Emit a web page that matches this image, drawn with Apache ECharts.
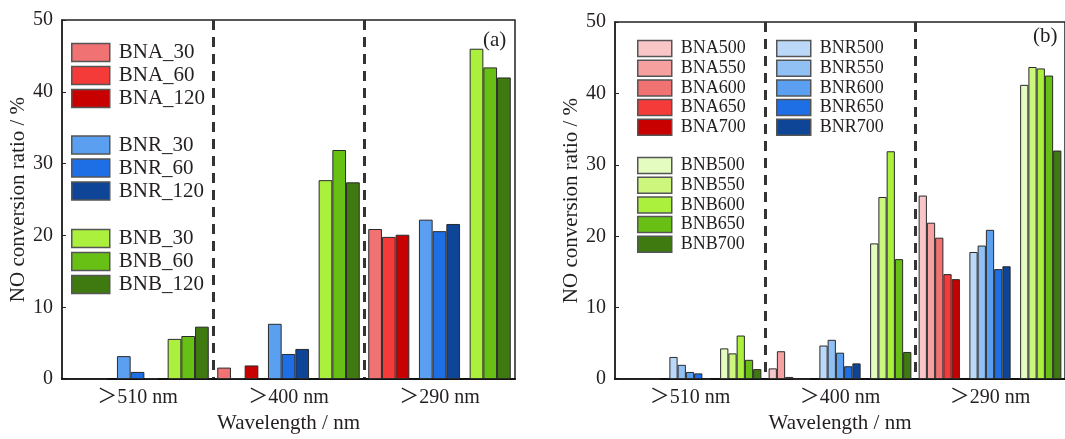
<!DOCTYPE html>
<html><head><meta charset="utf-8">
<script src="https://cdn.jsdelivr.net/npm/echarts@6/dist/echarts.min.js"></script>
<style>html,body{margin:0;padding:0;background:#fff}#c{width:1065px;height:439px}</style>
</head><body><div id="c"></div>
<script>
// ---------- data ----------
const categories = ['\uFF1E510 nm', '\uFF1E400 nm', '\uFF1E290 nm'];
const yTicks = [0, 10, 20, 30, 40, 50];

// panel (a)
const a_BNA_30  = [0, 1.6, 20.9];
const a_BNA_60  = [0, 0.1, 19.8];
const a_BNA_120 = [0, 1.9, 20.1];
const a_BNR_30  = [3.2, 7.7, 22.2];
const a_BNR_60  = [1.0, 3.5, 20.6];
const a_BNR_120 = [0.1, 4.2, 21.6];
const a_BNB_30  = [5.6, 27.7, 46.0];
const a_BNB_60  = [6.0, 31.9, 43.4];
const a_BNB_120 = [7.3, 27.4, 42.0];

// panel (b)
const b_BNA500 = [0, 1.5, 25.7];
const b_BNA550 = [0, 3.9, 21.9];
const b_BNA600 = [0, 0.3, 19.8];
const b_BNA650 = [0, 0, 14.7];
const b_BNA700 = [0, 0, 14.0];
const b_BNR500 = [3.1, 4.7, 17.8];
const b_BNR550 = [2.0, 5.5, 18.7];
const b_BNR600 = [1.0, 3.7, 20.9];
const b_BNR650 = [0.8, 1.8, 15.4];
const b_BNR700 = [0, 2.2, 15.8];
const b_BNB500 = [4.3, 19.0, 41.2];
const b_BNB550 = [3.6, 25.5, 43.7];
const b_BNB600 = [6.1, 31.9, 43.5];
const b_BNB650 = [2.7, 16.8, 42.5];
const b_BNB700 = [1.4, 3.8, 32.0];

// ---------- style ----------
const SERIF = '"Liberation Serif", "Times New Roman", "Noto Sans CJK SC", serif';
const TXT = '#231f20';
const C = {
  a1:'#f9c6c8', a2:'#f7a0a0', a3:'#f07272', a4:'#f53a3a', a5:'#c80000',
  r1:'#bcd8f8', r2:'#90c0f4', r3:'#5b9ff0', r4:'#1e6ee6', r5:'#0f4596',
  g1:'#e4fcc0', g2:'#ccf67c', g3:'#aaf03c', g4:'#68c014', g5:'#3f7a10'
};

const groupsA = [
  [['BNA_30', a_BNA_30, C.a3], ['BNA_60', a_BNA_60, C.a4], ['BNA_120', a_BNA_120, C.a5]],
  [['BNR_30', a_BNR_30, C.r3], ['BNR_60', a_BNR_60, C.r4], ['BNR_120', a_BNR_120, C.r5]],
  [['BNB_30', a_BNB_30, C.g3], ['BNB_60', a_BNB_60, C.g4], ['BNB_120', a_BNB_120, C.g5]]
];
const groupsB = [
  [['BNA500', b_BNA500, C.a1], ['BNA550', b_BNA550, C.a2], ['BNA600', b_BNA600, C.a3], ['BNA650', b_BNA650, C.a4], ['BNA700', b_BNA700, C.a5]],
  [['BNR500', b_BNR500, C.r1], ['BNR550', b_BNR550, C.r2], ['BNR600', b_BNR600, C.r3], ['BNR650', b_BNR650, C.r4], ['BNR700', b_BNR700, C.r5]],
  [['BNB500', b_BNB500, C.g1], ['BNB550', b_BNB550, C.g2], ['BNB600', b_BNB600, C.g3], ['BNB650', b_BNB650, C.g4], ['BNB700', b_BNB700, C.g5]]
];

function buildSeries(groups, axisIdx, barW, gapW) {
  const out = [];
  groups.forEach((g, gi) => {
    if (gi > 0) {
      out.push({ type:'bar', name:'_gap' + axisIdx + gi, xAxisIndex:axisIdx, yAxisIndex:axisIdx,
        data:[], barWidth:gapW, barGap:'0%', silent:true, itemStyle:{opacity:0} });
    }
    g.forEach(([name, vals, color]) => {
      out.push({ type:'bar', name, xAxisIndex:axisIdx, yAxisIndex:axisIdx, data:vals,
        barWidth:barW, barGap:'0%',
        itemStyle:{ color, borderColor:'#2a2a2a', borderWidth:1 } });
    });
  });
  return out;
}

function xAx(gi) {
  return {
    type:'category', gridIndex:gi, data:categories,
    axisLine:{ lineStyle:{ color:'#111', width:2 } },
    axisTick:{ show:false },
    axisLabel:{ fontFamily:SERIF, fontSize:20, color:TXT, margin:9 },
    splitLine:{ show:true, interval:0, showMinLine:false, showMaxLine:false,
      lineStyle:{ color:'#333', width:3, type:[10,7] } },
    name:'Wavelength / nm', nameLocation:'middle', nameGap:31,
    nameTextStyle:{ fontFamily:SERIF, fontSize:21, color:TXT }
  };
}
function yAx(gi, gap) {
  return {
    type:'value', gridIndex:gi, min:yTicks[0], max:yTicks[yTicks.length-1], interval:10,
    axisLine:{ show:true, lineStyle:{ color:'#222', width:1.5 } },
    axisTick:{ show:true, inside:true, length:4, lineStyle:{ color:'#222' } },
    axisLabel:{ fontFamily:SERIF, fontSize:20, color:TXT, margin:9 },
    splitLine:{ show:false },
    name:'NO conversion ratio / %', nameLocation:'middle', nameGap:gap,
    nameTextStyle:{ fontFamily:SERIF, fontSize:21, color:TXT }
  };
}
function leg(names, left, top, w, h, gap, fs) {
  return {
    data:names, orient:'vertical', left, top, padding:0, itemWidth:w, itemHeight:h, itemGap:gap,
    icon:'rect', selectedMode:false,
    itemStyle:{ borderColor:'#555', borderWidth:1.5 },
    textStyle:{ fontFamily:SERIF, fontSize:fs, color:TXT, padding:[0,0,0,4] }
  };
}

const option = {
  animation:false,
  backgroundColor:'#fff',
  grid:[
    { left:62, top:20, width:453, height:363, show:true, borderColor:'#222', borderWidth:1.5 },
    { left:615, top:22, width:452, height:362, show:true, borderColor:'#222', borderWidth:1.5 }
  ],
  xAxis:[ xAx(0), xAx(1) ],
  yAxis:[ yAx(0, 32), yAx(1, 33) ],
  legend:[
    leg(groupsA[0].map(d=>d[0]), 71, 42, 38, 18, 2, 21),
    leg(groupsA[1].map(d=>d[0]), 71, 134.5, 38, 18, 2, 21),
    leg(groupsA[2].map(d=>d[0]), 71, 228, 38, 18, 2, 21),
    leg(groupsB[0].map(d=>d[0]), 637, 39.5, 34, 16, 1.7, 18),
    leg(groupsB[1].map(d=>d[0]), 776, 39.5, 34, 16, 1.7, 18),
    leg(groupsB[2].map(d=>d[0]), 637, 156.5, 34, 16, 1.7, 18)
  ],
  graphic:[
    { type:'text', left:483, top:30, style:{ text:'(a)', font:'21px ' + SERIF, fill:TXT } },
    { type:'text', left:1033, top:26, style:{ text:'(b)', font:'21px ' + SERIF, fill:TXT } }
  ],
  series:[].concat(buildSeries(groupsA, 0, 13.7, 9.6), buildSeries(groupsB, 1, 8.25, 9.5))
};

const chart = echarts.init(document.getElementById('c'));
chart.setOption(option);
</script></body></html>
